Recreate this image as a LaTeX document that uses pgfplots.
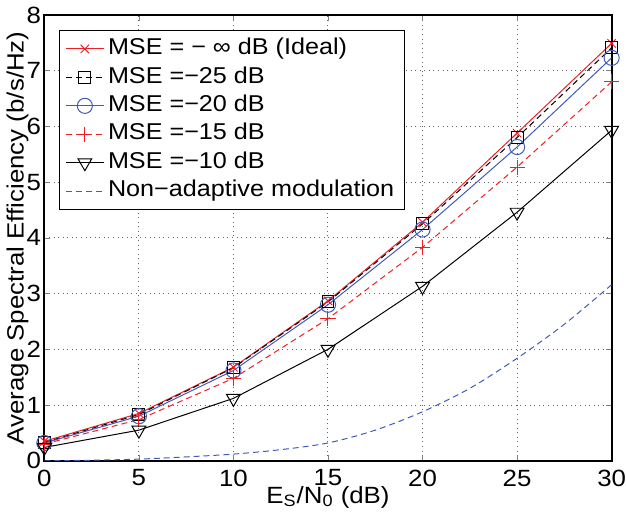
\documentclass[border=0pt]{standalone}
\usepackage{fontspec}
\setmainfont{Liberation Sans}[FakeStretch=1.1]
\usepackage{pgfplots}
\pgfplotsset{compat=1.18}
\definecolor{mred}{rgb}{0.93,0.12,0.15}
\definecolor{mblue}{rgb}{0.25,0.36,0.72}
\begin{document}
\begin{tikzpicture}
\begin{axis}[
  scale only axis,
  width=285pt, height=224pt,
  xmin=0, xmax=30, ymin=0, ymax=8,
  xtick={0,5,...,30}, ytick={0,1,...,8},
  /pgf/number format/assume math mode=true,
  tick label style={font=\fontsize{11.8}{13}\selectfont},
  xticklabel style={yshift=-1pt, inner xsep=0pt},
  yticklabel style={inner xsep=1.5pt},
  label style={font=\fontsize{11.8}{13}\selectfont},
  xlabel={E\textsubscript{S}/N\textsubscript{0} (dB)},
  ylabel={Average Spectral Efficiency (b/s/Hz)},
  xlabel style={yshift=7pt},
  ylabel style={yshift=-6pt},
  tick align=inside,
  major tick length=3pt,
  axis line style={line width=0.9pt},
  grid=major,
  major grid style={gray!80!black, line width=0.5pt, dash pattern=on 0.5pt off 1.8pt},
  every axis plot/.append style={line width=0.5pt},
  legend cell align=left,
  legend style={at={(0.026,0.966)}, anchor=north west, draw=black, line width=0.6pt,
    font=\fontsize{11.5}{13}\selectfont, inner xsep=3pt, inner ysep=2pt,
    row sep=0pt,
    nodes={text height=8.5pt, text depth=2.8pt, inner ysep=1.5pt}},
  legend image code/.code={\draw[mark repeat=2,mark phase=2] plot coordinates {(0cm,0cm) (0.33cm,0cm) (0.66cm,0cm)};},
]
\addplot[mred, mark=x, mark size=3pt] coordinates {
(0,0.35) (5,0.85) (10,1.68) (15,2.87) (20,4.28) (25,5.88) (30,7.49)};
\addlegendentry{MSE = − ∞ dB (Ideal)}
\addplot[black, dash pattern=on 3pt off 2pt, mark=square, mark size=3pt, mark options={solid}] coordinates {
(0,0.33) (5,0.83) (10,1.67) (15,2.85) (20,4.25) (25,5.80) (30,7.41)};
\addlegendentry{MSE =−25 dB}
\addplot[mblue, mark=o, mark size=3.8pt] coordinates {
(0,0.32) (5,0.80) (10,1.62) (15,2.80) (20,4.15) (25,5.63) (30,7.23)};
\addlegendentry{MSE =−20 dB}
\addplot[mred, dash pattern=on 3pt off 2pt, mark=+, mark size=3.8pt, mark options={solid}] coordinates {
(0,0.30) (5,0.74) (10,1.48) (15,2.55) (20,3.83) (25,5.27) (30,6.80)};
\addlegendentry{MSE =−15 dB}
\addplot[black, mark=triangle, mark size=4pt, mark options={rotate=180}] coordinates {
(0,0.24) (5,0.55) (10,1.12) (15,2.00) (20,3.13) (25,4.46) (30,5.93)};
\addlegendentry{MSE =−10 dB}
\addplot[mblue, dash pattern=on 3pt off 2pt, smooth] coordinates {
(0,0.0) (2.5,0.01) (5,0.03) (7.5,0.07) (10,0.12) (12.5,0.2) (15,0.32) (17.5,0.55) (20,0.88) (22.5,1.3) (25,1.84) (27.5,2.45) (30,3.16)};
\addlegendentry{Non−adaptive modulation}
\end{axis}
\end{tikzpicture}
\end{document}
